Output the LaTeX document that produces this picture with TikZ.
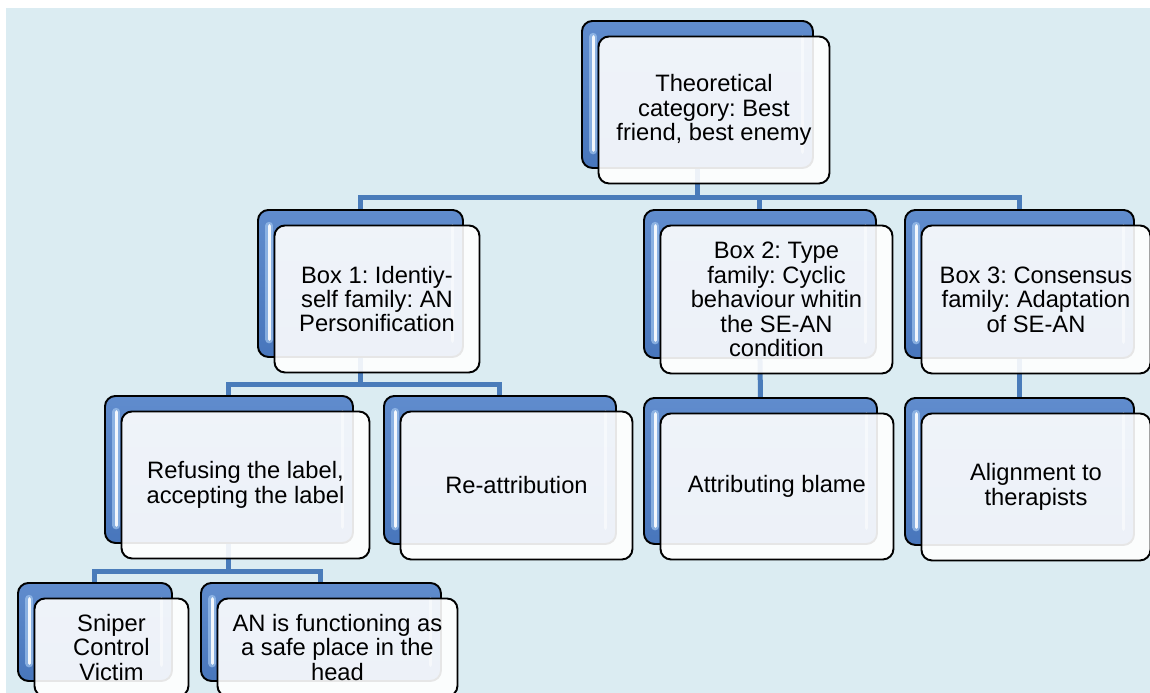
\documentclass[tikz,border=0pt]{standalone}
\usepackage{fontspec}
\setmainfont{Liberation Sans}
\frenchspacing
\usetikzlibrary{calc}
\pgfdeclarelayer{canvas}
\pgfdeclarelayer{wires}
\pgfsetlayers{canvas,wires,main}

\definecolor{paneblue}{RGB}{219,236,242}
\definecolor{wireblue}{RGB}{74,124,186}
\definecolor{bevtop}{RGB}{96,140,205}
\definecolor{bevbot}{RGB}{72,118,188}
\definecolor{glow}{RGB}{160,196,238}

\tikzset{
  backbox/.style={rounded corners=6pt, draw=black, line width=1.1pt,
    top color=bevtop, bottom color=bevbot, inner sep=0pt, anchor=north west,
    path picture={
      \draw[glow, opacity=0.7, line width=4.5pt, line cap=round]
        ([xshift=6.5pt,yshift=-9pt]path picture bounding box.north west) --
        ([xshift=6.5pt,yshift=10pt]path picture bounding box.south west);
      \draw[white, opacity=0.9, line width=1.8pt, line cap=round]
        ([xshift=6.5pt,yshift=-9pt]path picture bounding box.north west) --
        ([xshift=6.5pt,yshift=10pt]path picture bounding box.south west);
      \draw[white, opacity=0.5, line width=2pt, line cap=round]
        ([xshift=-6pt,yshift=-9pt]path picture bounding box.north east) --
        ([xshift=-6pt,yshift=9pt]path picture bounding box.south east);
    }},
  frontbox/.style={rounded corners=6pt, draw=black, line width=1.1pt,
    fill=white, fill opacity=0.9, text opacity=1, inner sep=0pt,
    anchor=north west, align=center, text=black,
    font=\fontsize{13.5}{13.9}\selectfont},
  wire/.style={draw=wireblue, line width=0.1cm, line join=miter}
}

% back tile + front tile with its text: name, x, y, width, height, text
\newcommand\tilepair[6]{%
  \node[backbox, minimum width={#4*0.02cm}, minimum height={#5*0.02cm}]
    (#1-b) at (#2,#3) {};
  \node[frontbox, minimum width={#4*0.02cm}, minimum height={#5*0.02cm}]
    (#1) at (#2+16.5,#3+15.5) {#6};
}

\begin{document}
\begin{tikzpicture}[x=0.02cm,y=-0.02cm]
\useasboundingbox (0,0) rectangle (1150,693);
\clip (0,0) rectangle (1150,693);

\begin{pgfonlayer}{canvas}
  \fill[white] (0,0) rectangle (1150,693);
  \fill[paneblue] (6,8) rectangle (1150,693);
\end{pgfonlayer}

% top level
\tilepair{top}{581}{20}{231}{147}{Theoretical\\category: Best\\friend, best enemy}

% second level
\tilepair{box1}{257}{209}{205}{147}{Box 1: Identiy-\\self family: AN\\Personification}
\tilepair{box2}{643}{209}{232}{148}{Box 2: Type\\family: Cyclic\\behaviour whitin\\the SE-AN\\condition}
\tilepair{box3}{904}{209}{229}{148}{Box 3: Consensus\\family: Adaptation\\of SE-AN}

% third level
\tilepair{refuse}{104}{395}{248}{147}{Refusing the label,\\accepting the label}
\tilepair{reattr}{383}{395}{232}{148}{Re-attribution}
\tilepair{blame}{643}{397}{233}{146}{Attributing blame}
\tilepair{align}{904}{397}{229}{147}{Alignment to\\therapists}

% fourth level
\tilepair{sniper}{17}{582}{154}{98}{Sniper\\Control\\Victim}
\tilepair{safe}{200}{582}{240}{98}{AN is functioning as\\a safe place in the\\head}

% connectors
\coordinate (bus1) at (0,197);
\coordinate (bus2) at (0,384);
\coordinate (bus3) at (0,571);
\begin{pgfonlayer}{wires}
  \draw[wire] (top-b.south) -- (top-b.south |- bus1);
  \draw[wire] (box1-b.north) |- (box3-b.north |- bus1) -- (box3-b.north);
  \draw[wire] (box2-b.north) -- (box2-b.north |- bus1);

  \draw[wire] (box1-b.south) -- (box1-b.south |- bus2);
  \draw[wire] (refuse-b.north) |- (reattr-b.north |- bus2) -- (reattr-b.north);

  \draw[wire] (box2-b.south) -- (blame-b.north);
  \draw[wire] (box3-b.south) -- (align-b.north);

  \draw[wire] (refuse-b.south) -- (refuse-b.south |- bus3);
  \draw[wire] (sniper-b.north) |- (safe-b.north |- bus3) -- (safe-b.north);
\end{pgfonlayer}
\end{tikzpicture}
\end{document}
